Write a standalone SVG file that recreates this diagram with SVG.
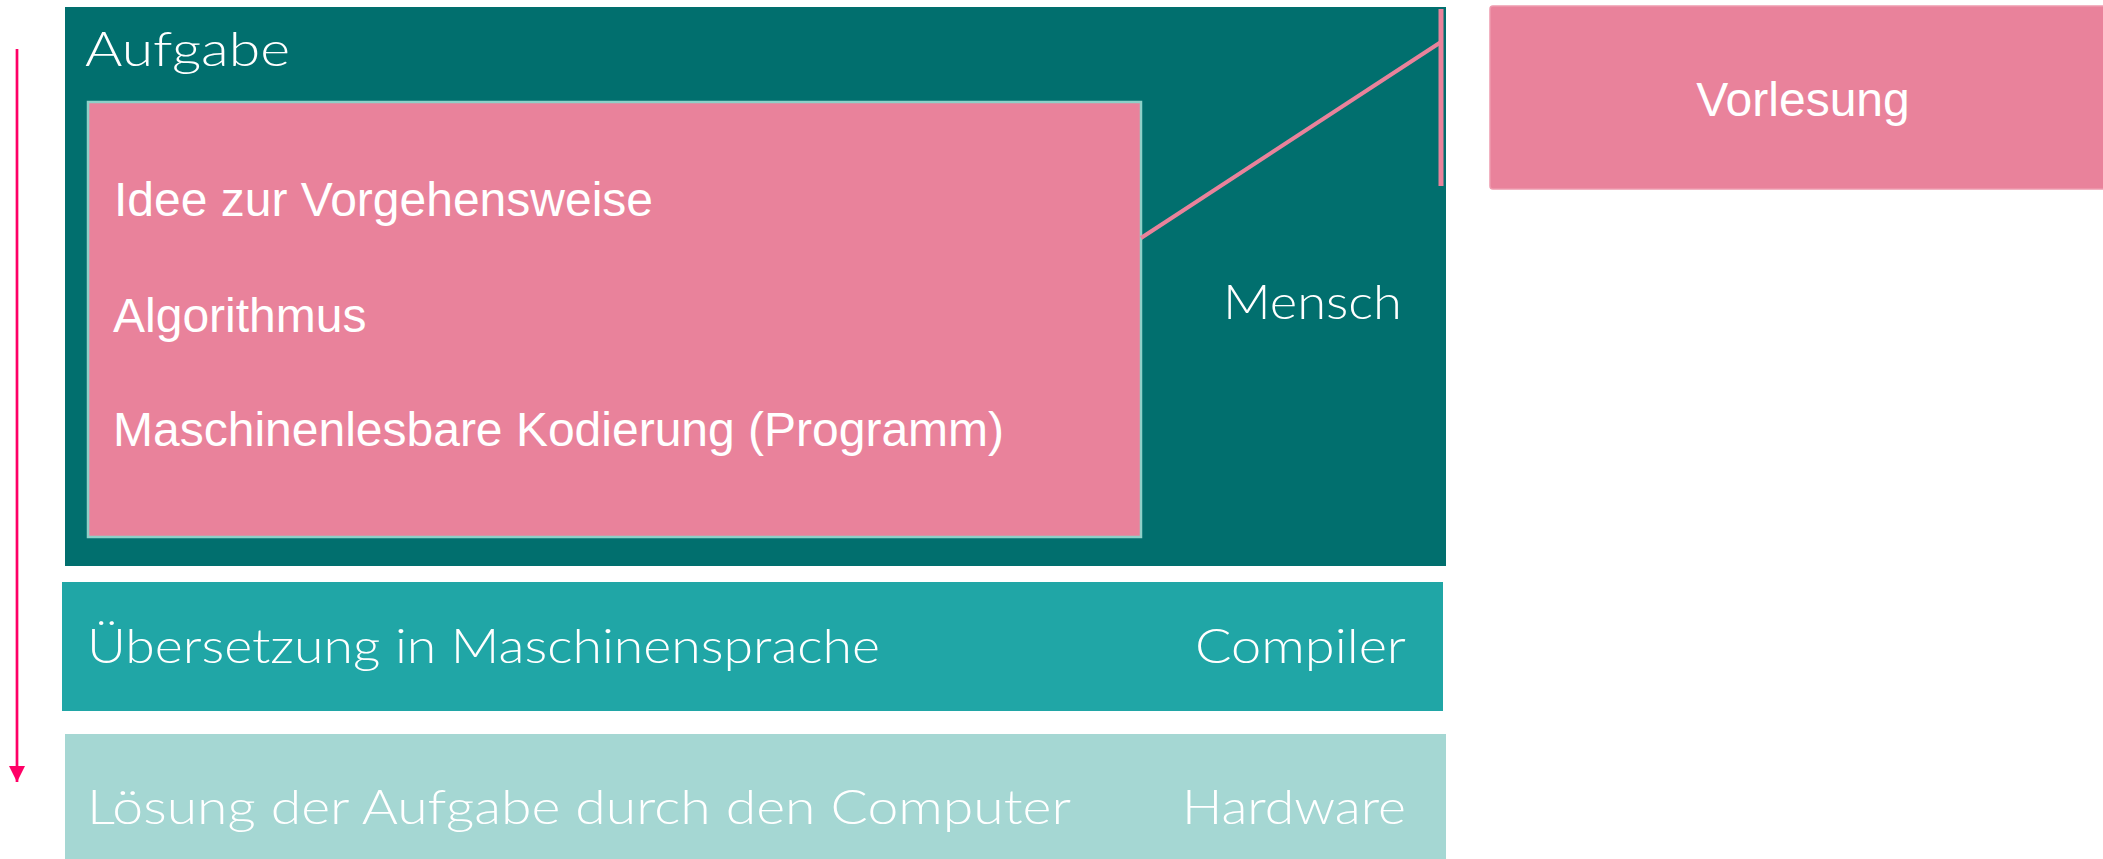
<svg xmlns="http://www.w3.org/2000/svg" width="2103" height="859" viewBox="0 0 2103 859">
<defs>
<style>
.g{font-family:Lato,"Open Sans","DejaVu Sans",sans-serif;font-weight:300;font-size:47px;fill:#fff}
.a{font-family:"Liberation Sans",Arial,sans-serif;font-size:48px;fill:#fff}
.pink{fill:#E9829B}
.con{stroke:#E9829B;fill:none}
</style>
<marker id="ah" viewBox="0 0 16 16" refX="16" refY="8" markerWidth="16" markerHeight="16" markerUnits="userSpaceOnUse" orient="auto">
<path d="M0,0 L16,8 L0,16 Z" fill="#FF0066"/>
</marker>
</defs>
<rect width="2103" height="859" fill="#fff"/>
<g id="mensch">
<rect x="65" y="7" width="1381" height="559" fill="#016F6E"/>
<text class="g" x="85" y="66" textLength="205" lengthAdjust="spacingAndGlyphs">Aufgabe</text>
<text class="g" x="1223" y="319" textLength="179" lengthAdjust="spacingAndGlyphs">Mensch</text>
</g>
<g id="vorgehen">
<rect x="88" y="102" width="1053" height="435" class="pink" stroke="#8ED0C8" stroke-width="2.5"/>
<text class="a" x="114" y="216">Idee zur Vorgehensweise</text>
<text class="a" x="113" y="332">Algorithmus</text>
<text class="a" x="113" y="446">Maschinenlesbare Kodierung (Programm)</text>
</g>
<g id="compiler">
<rect x="62" y="582" width="1381" height="129" fill="#20A6A6"/>
<text class="g" x="87" y="663" textLength="793" lengthAdjust="spacingAndGlyphs">Übersetzung in Maschinensprache</text>
<text class="g" x="1195" y="663" textLength="211" lengthAdjust="spacingAndGlyphs">Compiler</text>
</g>
<g id="hardware">
<rect x="65" y="734" width="1381" height="125" fill="#A5D7D3"/>
<text class="g" x="87" y="824" textLength="984" lengthAdjust="spacingAndGlyphs">Lösung der Aufgabe durch den Computer</text>
<text class="g" x="1182" y="824" textLength="224" lengthAdjust="spacingAndGlyphs">Hardware</text>
</g>
<g id="vorlesung">
<rect x="1490" y="6" width="620" height="183" rx="3" class="pink" stroke="#EE9AAE" stroke-width="1.5"/>
<text class="a" x="1803" y="116" text-anchor="middle">Vorlesung</text>
</g>
<g id="connectors">
<path class="con" d="M1141,238 L1441,42" stroke-width="4"/>
<path class="con" d="M1441,9 L1441,186" stroke-width="5"/>
<path d="M17,49 L17,782" stroke="#FF0066" stroke-width="2.7" fill="none" marker-end="url(#ah)"/>
</g>
</svg>
